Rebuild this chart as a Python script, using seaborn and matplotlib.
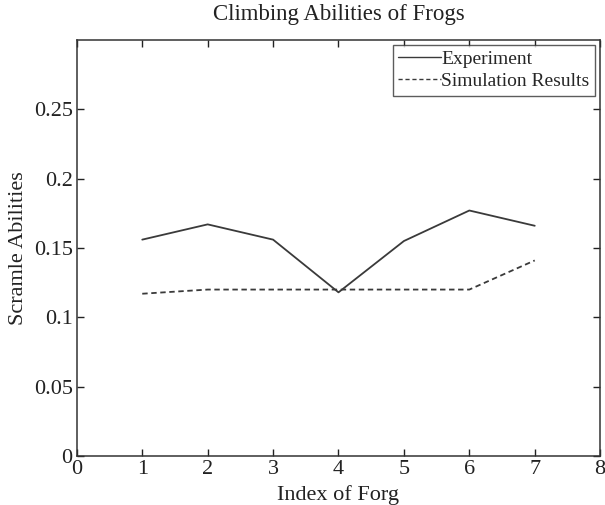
import matplotlib
matplotlib.use("Agg")
import matplotlib.pyplot as plt
import seaborn as sns
import pandas as pd

frog_index = [1, 2, 3, 4, 5, 6, 7]
experiment = [0.156, 0.167, 0.156, 0.118, 0.155, 0.177, 0.166]
simulation = [0.117, 0.120, 0.120, 0.120, 0.120, 0.120, 0.141]
series_names = ["Experiment", "Simulation Results"]
x_ticks = [0, 1, 2, 3, 4, 5, 6, 7, 8]
y_ticks = [0, 0.05, 0.1, 0.15, 0.2, 0.25]
y_tick_labels = ["0", "0.05", "0.1", "0.15", "0.2", "0.25"]

df = pd.DataFrame({
    "Index": frog_index * 2,
    "Ability": experiment + simulation,
    "Series": [series_names[0]] * len(experiment) + [series_names[1]] * len(simulation),
})

sns.set_style("ticks")
plt.rcParams["font.family"] = ["Liberation Serif", "DejaVu Serif"]

fig = plt.figure(figsize=(6.05, 5.05), dpi=100)
ax = fig.add_axes([0.127, 0.097, 0.865, 0.824])

line_color = "#3a3a3a"
sns.lineplot(
    data=df, x="Index", y="Ability", style="Series",
    dashes={series_names[0]: "", series_names[1]: (3, 2)},
    color=line_color, linewidth=1.3, ax=ax, legend=True,
)

ax.set_xlim(0, 8)
ax.set_ylim(0, 0.3)
ax.set_xticks(x_ticks)
ax.set_xticklabels([str(t) for t in x_ticks])
ax.set_yticks(y_ticks)
ax.set_yticklabels(y_tick_labels)
ax.tick_params(direction="in", length=5, width=1, top=True, right=True,
               labelsize=16, colors="#222222", pad=3)
for side in ax.spines.values():
    side.set_linewidth(1.1)
    side.set_color("#333333")

ax.set_title("Climbing Abilities of Frogs", fontsize=16.5, pad=14, color="#222222")
ax.set_xlabel("Index of Forg", fontsize=16, labelpad=4, color="#222222")
ax.set_ylabel("Scramle Abilities", fontsize=16, labelpad=4, color="#222222")

leg = ax.legend(loc="upper right", fontsize=14, frameon=True, fancybox=False,
                handlelength=2.2, handletextpad=0.0, borderpad=0.3,
                labelspacing=0.2, borderaxespad=0.25)
leg.get_frame().set_edgecolor("#333333")
leg.get_frame().set_linewidth(1.0)
for h in leg.get_lines():
    h.set_linewidth(1.0)

fig.savefig("out.png", dpi=100, facecolor="white")
